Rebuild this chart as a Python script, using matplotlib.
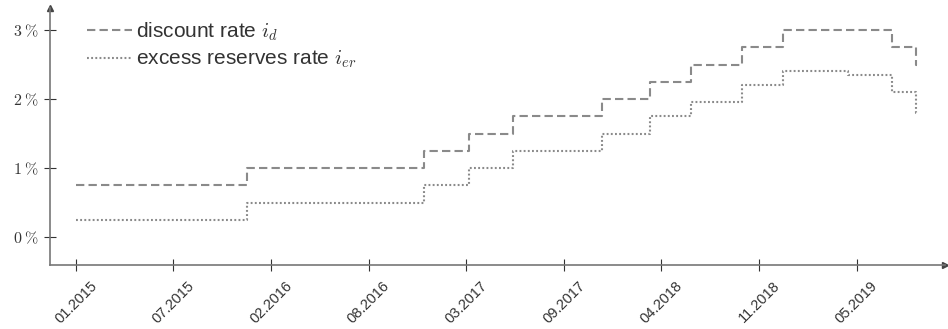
import matplotlib.pyplot as plt
import matplotlib.dates as mdates
import numpy as np

plt.rcParams['font.family'] = ['Liberation Sans', 'DejaVu Sans']
plt.rcParams['mathtext.fontset'] = 'cm'

# policy rate changes (rate holds until next date)
disc_dates = ['2015-01-01', '2015-12-17', '2016-12-15', '2017-03-16', '2017-06-15',
              '2017-12-14', '2018-03-22', '2018-06-14', '2018-09-27', '2018-12-20',
              '2019-08-01', '2019-09-19', '2019-09-20']
disc_rate = [0.75, 1.00, 1.25, 1.50, 1.75, 2.00, 2.25, 2.50, 2.75, 3.00, 2.75, 2.50, 2.50]

ioer_dates = ['2015-01-01', '2015-12-17', '2016-12-15', '2017-03-16', '2017-06-15',
              '2017-12-14', '2018-03-22', '2018-06-14', '2018-09-27', '2018-12-20',
              '2019-05-02', '2019-08-01', '2019-09-19', '2019-09-20']
ioer_rate = [0.25, 0.50, 0.75, 1.00, 1.25, 1.50, 1.75, 1.95, 2.20, 2.40, 2.35, 2.10, 1.80, 1.80]

# x ticks every 200 days starting 01.01.2015
tick_dates = ['2015-01-01', '2015-07-20', '2016-02-05', '2016-08-23', '2017-03-11',
              '2017-09-27', '2018-04-15', '2018-11-01', '2019-05-20']
tick_labels = ['01.2015', '07.2015', '02.2016', '08.2016', '03.2017',
               '09.2017', '04.2018', '11.2018', '05.2019']

y_ticks = [0, 1, 2, 3]

to_num = lambda d: mdates.date2num(np.array(d, dtype='datetime64[D]'))

W, H = 948, 329
fig = plt.figure(figsize=(W/100, H/100), dpi=100)
ax = fig.add_axes([50/W, 64/H, 895/W, 257/H])

line_col = '#8a8a8a'
ax.step(to_num(disc_dates), disc_rate, where='post', color=line_col, lw=1.5,
        dashes=(4, 2), label=r'discount rate $i_d$')
ax.step(to_num(ioer_dates), ioer_rate, where='post', color=line_col, lw=1.5,
        dashes=(0.9, 1.1), label=r'excess reserves rate $i_{er}$')

x0 = to_num('2015-01-01')
ax.set_xlim(x0 - 53, x0 + 1781)
ax.set_ylim(-0.406, 3.32)

for s in ['top', 'right']:
    ax.spines[s].set_visible(False)
for s in ['left', 'bottom']:
    ax.spines[s].set_color('#777777')
    ax.spines[s].set_linewidth(1.2)

# arrow heads at the axis ends
ax.plot(1, 0, '>', color='#444444', ms=5, transform=ax.transAxes, clip_on=False)
ax.plot(0, 1, '^', color='#444444', ms=5, transform=ax.transAxes, clip_on=False)

ax.set_xticks(to_num(tick_dates))
ax.set_xticklabels(tick_labels, rotation=45, ha='center', va='top', fontsize=10.5,
                   color='#333333')
ax.set_yticks(y_ticks)
ax.set_yticklabels([r'$%d\;\%%$' % v for v in y_ticks], fontsize=11.5, color='#333333')
ax.tick_params(direction='inout', length=8, width=0.8, color='#333333')
ax.tick_params(axis='x', pad=6)

ax.legend(loc='upper left', bbox_to_anchor=(87/W, 1 - 20/H), bbox_transform=fig.transFigure,
          frameon=False, fontsize=15, borderpad=0, borderaxespad=0,
          handlelength=2.15, handletextpad=0.2, labelspacing=0.3, labelcolor='#333333')

fig.savefig('out.png', dpi=100)
